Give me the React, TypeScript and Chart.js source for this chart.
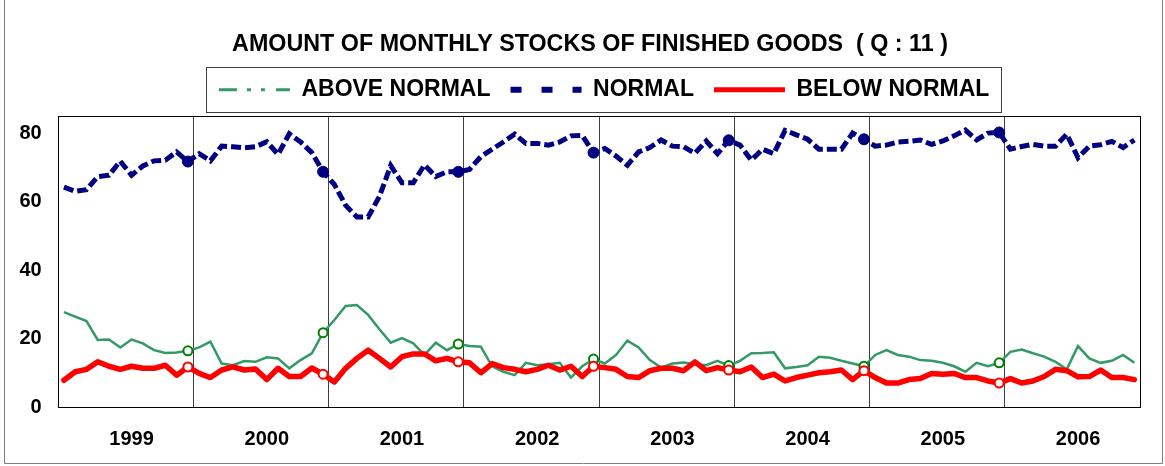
import React, { useEffect, useRef } from 'react';
import { Chart, registerables } from 'chart.js';

Chart.register(...registerables);

const TITLE = 'AMOUNT OF MONTHLY STOCKS OF FINISHED GOODS  ( Q : 11 )';
const YEARS = ['1999', '2000', '2001', '2002', '2003', '2004', '2005', '2006'];
const MONTHS = ['Jan', 'Feb', 'Mar', 'Apr', 'May', 'Jun', 'Jul', 'Aug', 'Sep', 'Oct', 'Nov', 'Dec'];
const CATEGORIES = YEARS.flatMap((y) => MONTHS.map((m) => `${m} ${y}`));
const Y_TICKS = [0, 20, 40, 60, 80];

const ABOVE_NORMAL = [
  27.7, 26.4, 25.1, 19.6, 19.7, 17.4, 19.7, 18.6, 16.6, 15.8, 15.9, 16.4,
  17.4, 19.1, 12.7, 12.2, 13.4, 13.2, 14.5, 14.2, 11.3, 13.7, 15.7, 21.7,
  25.4, 29.5, 29.8, 26.9, 22.7, 18.8, 20.1, 18.6, 15.2, 18.8, 16.6, 18.4,
  17.8, 17.6, 11.9, 10.3, 9.3, 12.9, 12.2, 12.5, 12.9, 8.6, 11.9, 14.0,
  12.7, 15.2, 19.4, 17.4, 13.7, 11.5, 12.7, 13.0, 12.5, 12.2, 13.5, 12.1,
  13.5, 15.7, 15.8, 16.0, 11.3, 11.7, 12.2, 14.7, 14.4, 13.5, 12.7, 11.9,
  15.2, 16.6, 15.2, 14.7, 13.7, 13.5, 12.9, 11.9, 10.3, 12.9, 11.9, 12.9,
  16.1, 16.8, 15.7, 14.7, 13.2, 11.0, 17.8, 14.2, 12.9, 13.5, 15.2, 12.9,
];

const NORMAL = [
  64.2, 63.0, 63.5, 67.3, 67.7, 71.8, 67.7, 70.4, 71.9, 72.1, 74.5, 71.7,
  74.0, 71.9, 76.2, 76.0, 75.7, 76.0, 77.5, 73.8, 79.8, 77.4, 74.3, 68.7,
  65.0, 58.9, 55.5, 55.5, 61.5, 70.5, 65.5, 65.5, 70.7, 67.3, 68.7, 68.7,
  69.4, 73.1, 75.3, 77.4, 79.7, 77.0, 77.0, 76.5, 77.4, 79.2, 79.3, 74.3,
  75.5, 73.3, 70.6, 74.5, 75.8, 78.0, 76.2, 76.0, 74.1, 77.7, 74.0, 77.9,
  76.5, 72.1, 75.3, 74.0, 80.8, 79.5, 78.2, 75.3, 75.3, 75.3, 80.0, 78.2,
  76.2, 76.5, 77.4, 77.6, 78.0, 76.7, 77.7, 79.2, 80.9, 78.0, 80.0, 80.2,
  75.3, 76.1, 76.7, 76.2, 76.2, 79.7, 72.8, 76.2, 76.6, 77.6, 75.8, 78.0,
];

const BELOW_NORMAL = [
  7.8, 10.3, 11.0, 13.2, 11.9, 11.0, 11.9, 11.3, 11.3, 12.2, 9.3, 11.7,
  9.8, 8.6, 10.8, 11.7, 10.8, 11.1, 8.0, 11.3, 8.9, 8.9, 11.4, 9.6,
  7.3, 11.3, 14.2, 16.6, 14.2, 11.7, 14.7, 15.5, 15.5, 13.5, 14.2, 13.2,
  12.9, 10.0, 12.7, 11.5, 11.0, 10.3, 11.0, 12.2, 10.8, 11.9, 8.9, 11.9,
  11.5, 11.0, 8.9, 8.6, 10.6, 11.3, 11.3, 10.6, 13.2, 10.6, 11.5, 10.8,
  10.3, 11.7, 8.6, 9.6, 7.6, 8.6, 9.3, 10.0, 10.3, 10.8, 8.0, 10.6,
  8.6, 7.0, 7.0, 8.0, 8.3, 9.8, 9.6, 9.8, 8.6, 8.6, 7.6, 7.0,
  8.3, 7.0, 7.6, 8.9, 11.0, 10.6, 8.8, 8.9, 10.8, 8.6, 8.6, 8.0,
];

const FONT = "'Liberation Sans', Arial, Helvetica, sans-serif";

const LEGEND_STYLES = [
  { width: 3, dash: [18, 10, 4, 10, 4, 11] },
  { width: 6, dash: [11, 20] },
  { width: 5, dash: [] as number[] },
];

// marker at each December, except for the last year
const isMarker = (i: number) => i % 12 === 11 && i < CATEGORIES.length - 1;

const framePlugin = {
  id: 'frames',
  afterLayout(chart: any) {
    if (chart.legend) {
      chart.legend.left += 5;
      chart.legend.right += 5;
    }
  },
  beforeDraw(chart: any) {
    const { ctx, width, height } = chart;
    ctx.save();
    ctx.fillStyle = '#ffffff';
    ctx.fillRect(0, 0, width, height);
    ctx.strokeStyle = '#7f7f7f';
    ctx.lineWidth = 1;
    ctx.beginPath();
    ctx.moveTo(4.5, 0);
    ctx.lineTo(4.5, 463.5);
    ctx.lineTo(1162.5, 463.5);
    ctx.lineTo(1162.5, 0);
    ctx.stroke();
    ctx.restore();
  },
  afterDraw(chart: any) {
    const { ctx, chartArea, legend } = chart;
    ctx.save();
    ctx.strokeStyle = '#000000';
    ctx.lineWidth = 1;
    const l = Math.round(chartArea.left) + 0.5;
    const t = Math.round(chartArea.top) + 0.5;
    const r = Math.round(chartArea.right) + 0.5;
    const b = Math.round(chartArea.bottom) + 0.5;
    ctx.strokeRect(l, t, r - l, b - t);
    if (legend && legend.legendHitBoxes && legend.legendHitBoxes.length) {
      const hb = legend.legendHitBoxes;
      const first = hb[0];
      const last = hb[hb.length - 1];
      const cy = first.top + first.height / 2;
      const lx = Math.round(first.left - 13) + 0.5;
      const rx = Math.round(last.left + last.width + 12) + 0.5;
      const ty = Math.round(cy - 23) + 0.5;
      const by = Math.round(cy + 22.6) + 0.5;
      ctx.strokeStyle = '#404040';
      ctx.strokeRect(lx, ty, rx - lx, by - ty);
    }
    ctx.restore();
  },
};

export default function App() {
  const ref = useRef<HTMLCanvasElement>(null);

  useEffect(() => {
    document.body.style.margin = '0';
    const canvas = ref.current;
    if (!canvas) return;
    const chart = new Chart(canvas, {
      type: 'line',
      data: {
        labels: CATEGORIES,
        datasets: [
          {
            label: 'ABOVE NORMAL',
            data: ABOVE_NORMAL,
            borderColor: '#339966',
            backgroundColor: '#339966',
            borderWidth: 2.5,
            tension: 0,
            pointRadius: (c: any) => (isMarker(c.dataIndex) ? 4.5 : 0),
            pointBorderWidth: 2,
            pointBorderColor: '#008000',
            pointBackgroundColor: '#ffffff',
            yAxisID: 'y',
            order: 3,
          },
          {
            label: 'NORMAL',
            data: NORMAL,
            borderColor: '#000080',
            backgroundColor: '#000080',
            borderWidth: 5,
            borderDash: [10, 4],
            tension: 0,
            pointRadius: (c: any) => (isMarker(c.dataIndex) ? 5.5 : 0),
            pointBorderWidth: 1,
            pointBorderColor: '#000080',
            pointBackgroundColor: '#000080',
            yAxisID: 'y',
            order: 2,
          },
          {
            label: 'BELOW NORMAL',
            data: BELOW_NORMAL,
            borderColor: '#ff0000',
            backgroundColor: '#ff0000',
            borderWidth: 5.5,
            borderJoinStyle: 'round',
            borderCapStyle: 'round',
            tension: 0,
            pointRadius: (c: any) => (isMarker(c.dataIndex) ? 4.5 : 0),
            pointBorderWidth: 2,
            pointBorderColor: '#ff0000',
            pointBackgroundColor: '#ffffff',
            yAxisID: 'y',
            order: 1,
          },
        ],
      },
      options: {
        responsive: false,
        animation: false,
        devicePixelRatio: 1,
        events: [],
        layout: { padding: { left: 17.7, right: 2.7, top: 0, bottom: 0 } },
        plugins: {
          title: {
            display: true,
            text: TITLE,
            color: '#000000',
            font: { family: FONT, size: 23.3, weight: 'bold' },
            padding: { top: 30.2, bottom: 0 },
          },
          subtitle: {
            display: true,
            text: '',
            position: 'top',
            weight: 500,
            font: { size: 1 },
            padding: { top: 3.64, bottom: 0 },
          },
          legend: {
            display: true,
            position: 'top',
            fullSize: false,
            labels: {
              usePointStyle: true,
              pointStyleWidth: 71,
              padding: 20,
              color: '#000000',
              font: { family: FONT, size: 23, weight: 'bold' },
              generateLabels: (ch: any) =>
                ch.data.datasets.map((ds: any, i: number) => ({
                  text: ds.label,
                  fillStyle: ds.borderColor,
                  strokeStyle: ds.borderColor,
                  lineWidth: LEGEND_STYLES[i].width,
                  lineDash: LEGEND_STYLES[i].dash,
                  lineCap: 'butt',
                  pointStyle: 'line',
                  datasetIndex: i,
                  hidden: false,
                  fontColor: '#000000',
                })),
            },
          },
          tooltip: { enabled: false },
        },
        scales: {
          x: {
            type: 'category',
            offset: true,
            afterFit: (s: any) => {
              s.height = 59;
            },
            border: { display: false },
            grid: {
              offset: true,
              drawTicks: false,
              lineWidth: 1,
              color: (c: any) =>
                c.index > 0 && c.index % 12 === 0 ? '#404040' : 'rgba(0,0,0,0)',
            },
            ticks: {
              autoSkip: false,
              maxRotation: 0,
              minRotation: 0,
              padding: 20,
              color: '#000000',
              font: { family: FONT, size: 20, weight: 'bold' },
              callback: (_v: any, i: number) =>
                i % 12 === 6 ? YEARS[Math.floor(i / 12)] : '',
            },
          },
          y: {
            type: 'linear',
            position: 'left',
            min: 0,
            max: 85,
            afterFit: (s: any) => {
              s.width = 40.6;
            },
            afterBuildTicks: (s: any) => {
              s.ticks = Y_TICKS.map((v) => ({ value: v }));
            },
            border: { display: false },
            grid: { display: false, drawTicks: false },
            ticks: {
              padding: 16.6,
              color: '#000000',
              font: { family: FONT, size: 20, weight: 'bold' },
            },
          },
          yRight: {
            type: 'linear',
            position: 'right',
            min: 0,
            max: 85,
            afterFit: (s: any) => {
              s.width = 22.3;
            },
            border: { display: false },
            grid: { display: false, drawTicks: false },
            ticks: { display: false },
          },
        },
      },
      plugins: [framePlugin],
    } as any);
    return () => chart.destroy();
  }, []);

  return (
    <div style={{ width: 1165, height: 466, position: 'relative' }}>
      <canvas ref={ref} width={1165} height={466} style={{ display: 'block' }} />
    </div>
  );
}
